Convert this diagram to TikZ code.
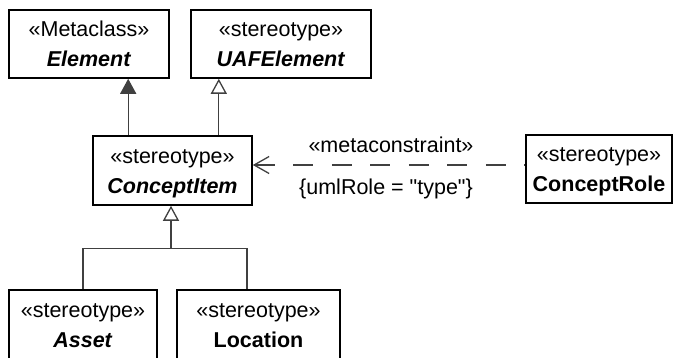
\documentclass[tikz,border=0pt]{standalone}
\usepackage{fontspec}
\setmainfont{Liberation Sans}
\usetikzlibrary{arrows.meta, positioning, calc}
\definecolor{linegray}{HTML}{404040}
\newcommand{\stereo}[2]{\rule{0pt}{0.94em}#1\\#2\rule[-0.22em]{0pt}{0pt}}

\begin{document}
\begin{tikzpicture}[
    x=1pt, y=-1pt,
    cls/.style={rectangle, draw=black, line width=1.6pt, fill=white, inner sep=0pt,
        minimum height=68pt, align=center, font=\fontsize{21.5}{30}\selectfont},
    conn/.style={draw=linegray, line width=1.3pt},
    genfilled/.style={conn, -{Triangle[length=15pt, width=16pt, fill=linegray]}},
    genopen/.style={conn, -{Triangle[open, length=15pt, width=16pt, fill=white]}},
    depend/.style={conn, dash pattern=on 20pt off 18.5pt, {Straight Barb[length=15pt, width=17pt]}-},
    lbl/.style={font=\fontsize{21.5}{26}\selectfont, inner sep=0pt, anchor=base}
]
\useasboundingbox (0,0) rectangle (675,358);

\node[cls, minimum width=160pt] (elem) at (89,44) {\stereo{«Metaclass»}{\textbf{\textit{Element}}}};
\node[cls, minimum width=180pt] (uaf) at (281,44) {\stereo{«stereotype»}{\textbf{\textit{UAFElement}}}};
\node[cls, minimum width=159pt, minimum height=69pt] (citem) at (172.5,170.5) {\stereo{«stereotype»}{\textbf{\textit{ConceptItem}}}};
\node[cls, minimum width=146pt] (crole) at (599,169) {\stereo{«stereotype»}{\textbf{ConceptRole}}};
\node[cls, minimum width=148pt, minimum height=69pt] (asset) at (83,324.5) {\stereo{«stereotype»}{\textbf{\textit{Asset}}}};
\node[cls, minimum width=163pt, minimum height=69pt] (loc) at (258.5,324.5) {\stereo{«stereotype»}{\textbf{Location}}};

\draw[genfilled] ([xshift=36pt]citem.north west) -- ([xshift=36pt]citem.north west |- elem.south);
\draw[genopen] ([xshift=-34pt]citem.north east) -- ([xshift=-34pt]citem.north east |- uaf.south);

\draw[depend] ([yshift=5.5pt]citem.east) -- ([yshift=5.5pt]citem.east -| crole.west)
    node[lbl, midway, xshift=2pt, yshift=12pt] {«metaconstraint»}
    node[lbl, midway, xshift=-3pt, yshift=-30pt] {\{umlRole = \textquotedbl type\textquotedbl\}};

\coordinate (jn) at ($(citem.south)+(-1.5,43)$);
\draw[conn] (asset.north) |- (jn) -| ([xshift=-11.5pt]loc.north);
\draw[genopen] (jn) -- (jn |- citem.south);
\end{tikzpicture}
\end{document}
